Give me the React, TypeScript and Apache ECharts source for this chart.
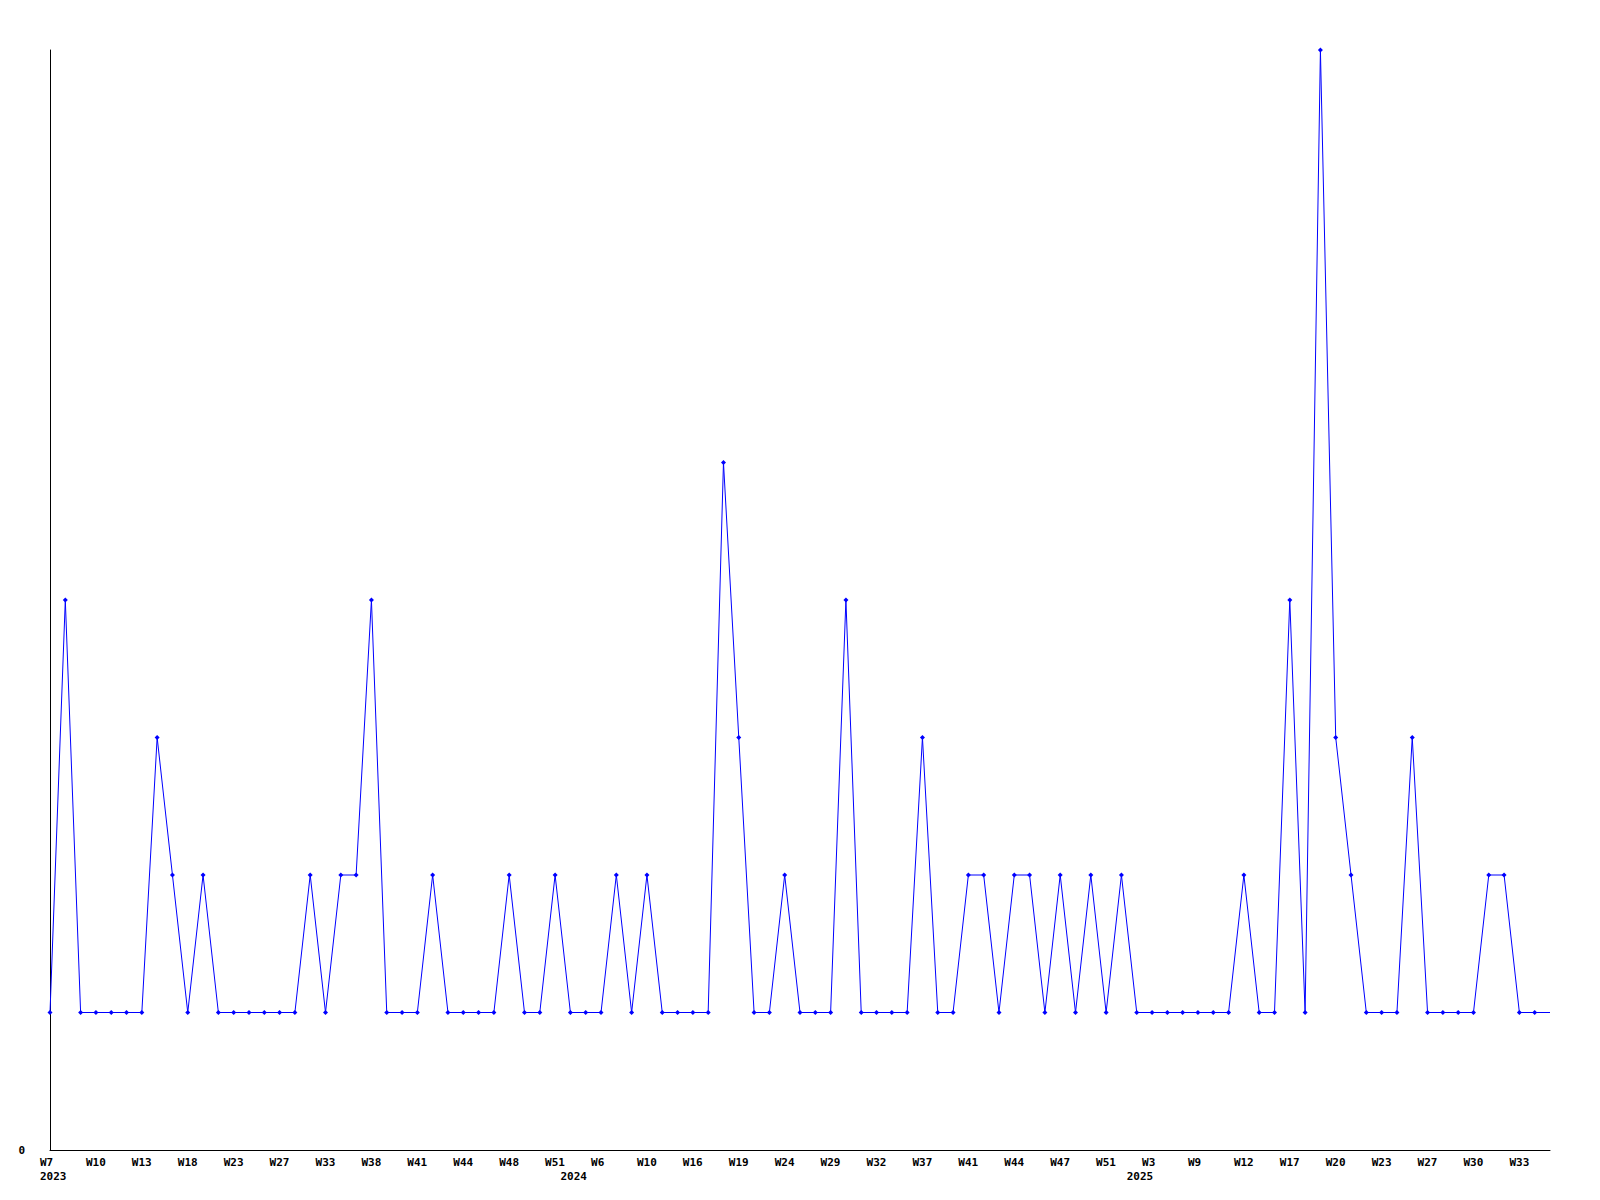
import React, { useEffect, useRef } from "react";
import * as echarts from "echarts";

// Week labels per year (category axis, irregular weeks)
const weeks2023 = ["W7","W8","W9","W10","W11","W12","W13","W15","W16","W18","W20","W21","W23","W24","W25","W27","W29","W31","W33","W35","W36","W38","W39","W40","W41","W42","W43","W44","W45","W46","W48","W49","W50","W51"];
const weeks2024 = ["W1","W3","W6","W7","W8","W10","W12","W14","W16","W17","W18","W19","W21","W22","W24","W26","W27","W29","W30","W31","W32","W34","W35","W37","W38","W40","W41","W42","W43","W44","W45","W46","W47","W48","W50","W51","W52"];
const weeks2025 = ["W1","W3","W5","W7","W9","W10","W11","W12","W14","W15","W17","W18","W19","W20","W21","W22","W23","W24","W26","W27","W28","W29","W30","W31","W32","W33","W34","W35"];

const values = [
  1,4,1,1,1,1,1,3,2,1,2,1,1,1,1,1,1,2,1,2,2,4,1,1,1,2,1,1,1,1,2,1,1,2,
  1,1,1,2,1,2,1,1,1,1,5,3,1,1,2,1,1,1,4,1,1,1,1,3,1,1,2,2,1,2,2,1,2,1,2,1,2,
  1,1,1,1,1,1,1,2,1,1,4,1,8,3,2,1,1,1,3,1,1,1,1,2,2,1,1,1
];

const yTickLabels = ["0"];

export default function App() {
  const ref = useRef<HTMLDivElement>(null);
  useEffect(() => {
    if (!ref.current) return;
    const chart = echarts.init(ref.current, null, { renderer: "svg" });
    const years: { year: string; weeks: string[] }[] = [
      { year: "2023", weeks: weeks2023 },
      { year: "2024", weeks: weeks2024 },
      { year: "2025", weeks: weeks2025 },
    ];
    const cats: string[] = [];
    const weekOf: string[] = [];
    const yearStart: Record<number, string> = {};
    years.forEach((y) => {
      yearStart[cats.length] = y.year;
      y.weeks.forEach((w) => {
        cats.push(y.year + "-" + w);
        weekOf.push(w);
      });
    });
    const font = "'DejaVu Sans Mono', 'Liberation Mono', monospace";
    const data = values.map((v, i) =>
      i === values.length - 1 ? { value: v, symbol: "none" } : v
    );
    chart.setOption({
      animation: false,
      backgroundColor: "#ffffff",
      grid: { left: 50, right: 50, top: 50, bottom: 50, containLabel: false },
      xAxis: {
        type: "category",
        data: cats,
        boundaryGap: false,
        axisLine: { show: true, lineStyle: { color: "#000000", width: 1 } },
        axisTick: { show: false },
        splitLine: { show: false },
        axisLabel: {
          interval: (i: number) => i % 3 === 0 || yearStart[i] !== undefined,
          margin: 5,
          align: "center",
          formatter: (_v: string, i: number) => {
            const w = i % 3 === 0 ? weekOf[i] : " ";
            const y = yearStart[i] !== undefined ? yearStart[i] : " ";
            return "{w|" + w + "}\n{y|" + y + "}";
          },
          rich: {
            w: { width: 20, align: "left", fontFamily: font, fontSize: 11, fontWeight: "bold", color: "#000", lineHeight: 14.5 },
            y: { width: 20, align: "left", fontFamily: font, fontSize: 11, fontWeight: "bold", color: "#000", lineHeight: 14.5 },
          },
        },
      },
      yAxis: {
        type: "value",
        min: 0,
        max: 8,
        interval: 8,
        axisLine: { show: true, lineStyle: { color: "#000000", width: 1 } },
        axisTick: { show: false },
        splitLine: { show: false },
        axisLabel: {
          margin: 25,
          fontFamily: font,
          fontSize: 11,
          fontWeight: "bold",
          color: "#000",
          formatter: (v: number) => (v === 0 ? yTickLabels[0] : ""),
        },
      },
      series: [
        {
          type: "line",
          data,
          clip: false,
          symbol: "diamond",
          symbolSize: 5,
          showAllSymbol: true,
          lineStyle: { color: "#0000ff", width: 1 },
          itemStyle: { color: "#0000ff" },
        },
      ],
    });
    return () => chart.dispose();
  }, []);
  return (
    <div
      ref={ref}
      style={{ position: "fixed", left: 0, top: 0, width: 1600, height: 1200 }}
    />
  );
}
